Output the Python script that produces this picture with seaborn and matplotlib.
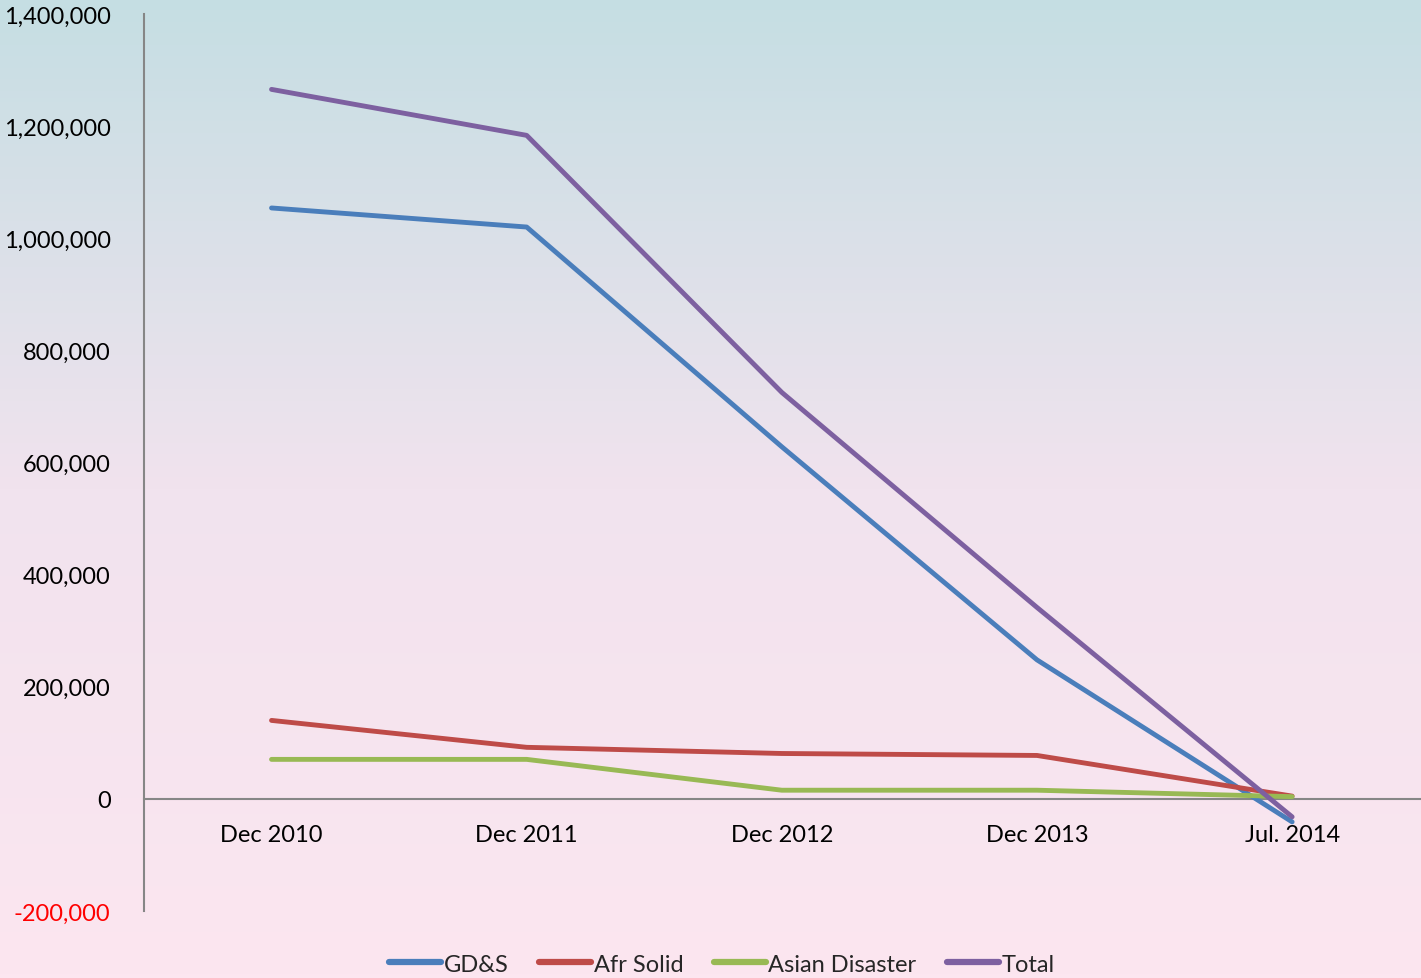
import numpy as np
import pandas as pd
import matplotlib
matplotlib.use('Agg')
import matplotlib.pyplot as plt
from matplotlib.colors import LinearSegmentedColormap
from matplotlib.ticker import FuncFormatter
import seaborn as sns

# Data
periods = ['Dec 2010', 'Dec 2011', 'Dec 2012', 'Dec 2013', 'Jul. 2014']
gds = [1054000, 1020000, 628000, 248000, -41000]
afr_solid = [140000, 92000, 81000, 77500, 5000]
asian_disaster = [70500, 70500, 15500, 15500, 4000]
total = [1265500, 1183500, 725000, 341500, -32000]

series_names = ['GD&S', 'Afr Solid', 'Asian Disaster', 'Total']
series_colors = ['#4a7ebb', '#be4b48', '#98b954', '#7d60a0']

df = pd.DataFrame({
    'period': periods * 4,
    'x': list(range(len(periods))) * 4,
    'value': gds + afr_solid + asian_disaster + total,
    'series': np.repeat(series_names, len(periods)),
})

sns.set_style("white")
plt.rcParams['font.family'] = ['Lato', 'DejaVu Sans']

fig = plt.figure(figsize=(14.21, 9.79), dpi=100)

# gradient background (teal at top, pink at bottom)
bg = fig.add_axes([0, 0, 1, 1], zorder=0)
grad_cmap = LinearSegmentedColormap.from_list(
    'bg', ['#fce6f0', '#f1e3ee', '#c5dee3'])
bg.imshow(np.linspace(0, 1, 256).reshape(-1, 1), aspect='auto',
          cmap=grad_cmap, origin='lower', extent=[0, 1, 0, 1])
bg.set_axis_off()

ax = fig.add_axes([0.1013, 0.0684, 0.8978, 0.9163], zorder=1)
ax.set_facecolor('none')

sns.lineplot(data=df, x='x', y='value', hue='series', hue_order=series_names,
             palette=series_colors, linewidth=3.5, ax=ax, legend=False,
             solid_capstyle='round')

ax.set_xlim(-0.5, len(periods) - 0.5)
ax.set_ylim(-200000, 1400000)
ax.set_yticks(np.arange(-200000, 1400001, 200000))
ax.yaxis.set_major_formatter(FuncFormatter(lambda v, p: f'{v:,.0f}'))
ax.set_xticks(range(len(periods)))
ax.set_xticklabels(periods)
ax.set_xlabel('')
ax.set_ylabel('')

for s in ['top', 'right']:
    ax.spines[s].set_visible(False)
ax.spines['left'].set_color('#868686')
ax.spines['left'].set_linewidth(1.5)
ax.spines['bottom'].set_position(('data', 0))
ax.spines['bottom'].set_color('#868686')
ax.spines['bottom'].set_linewidth(1.5)
ax.spines['left'].set_zorder(0)
ax.spines['bottom'].set_zorder(0)

ax.tick_params(axis='y', length=0, pad=24, labelsize=17, labelcolor='black')
ax.tick_params(axis='x', length=0, pad=18, labelsize=17, labelcolor='black')
ax.yaxis.get_ticklabels()[0].set_color('red')
ax.grid(False)

handles = [plt.Line2D([], [], color=c, linewidth=4.5, solid_capstyle='round')
           for c in series_colors]
fig.legend(handles, series_names, loc='center', bbox_to_anchor=(0.508, 0.0143),
           ncol=4, frameon=False, fontsize=17, handlelength=2.2,
           handletextpad=0.1, columnspacing=1.3, borderpad=0)

fig.savefig('out.png', dpi=100)
plt.close(fig)
